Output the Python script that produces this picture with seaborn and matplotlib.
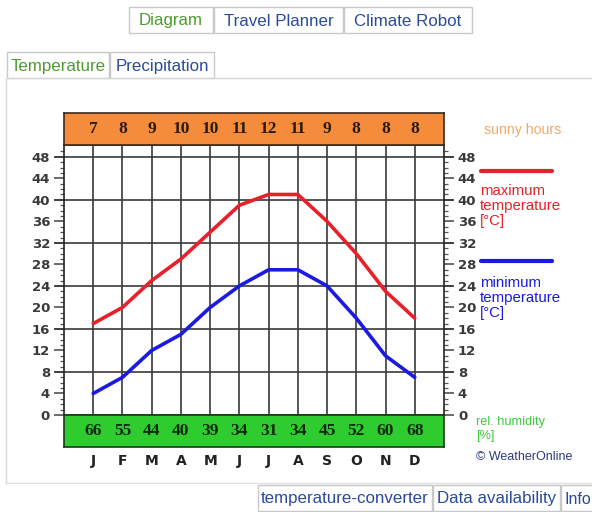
import matplotlib
matplotlib.use("Agg")
import matplotlib.pyplot as plt
from matplotlib.patches import Rectangle
import numpy as np
import pandas as pd
import seaborn as sns

# Monthly climate values
months = ["J", "F", "M", "A", "M", "J", "J", "A", "S", "O", "N", "D"]
max_temp = [17, 20, 25, 29, 34, 39, 41, 41, 36, 30, 23, 18]
min_temp = [4, 7, 12, 15, 20, 24, 27, 27, 24, 18, 11, 7]
sunny_hours = [7, 8, 9, 10, 10, 11, 12, 11, 9, 8, 8, 8]
humidity = [66, 55, 44, 40, 39, 34, 31, 34, 45, 52, 60, 68]
y_ticks = list(range(0, 49, 4))

sns.set_style("white")
plt.rcParams["font.family"] = ["DejaVu Sans"]

W, H = 592, 512
fig = plt.figure(figsize=(W / 100, H / 100), dpi=100)
fig.patch.set_facecolor("white")


def px_axes(x0, y0, x1, y1, **kw):
    """Axes placed by pixel box (top-left origin)."""
    return fig.add_axes([x0 / W, 1 - y1 / H, (x1 - x0) / W, (y1 - y0) / H], **kw)


# Page chrome: tabs and panel frame
page = px_axes(0, 0, W, H)
page.set_xlim(0, W)
page.set_ylim(H, 0)
page.axis("off")

tab_edge = "#c8c8c8"
green_txt = "#4e9a2e"
blue_txt = "#2b4a9a"


def tab(x0, x1, y0, y1, label, color, size=12.2, tx=None):
    page.add_patch(Rectangle((x0, y0), x1 - x0, y1 - y0, facecolor="white",
                             edgecolor=tab_edge, lw=1.0))
    if tx is None:
        page.text((x0 + x1) / 2, (y0 + y1) / 2 + 1, label, color=color,
                  fontsize=size, ha="center", va="center",
                  family="Liberation Sans")
    else:
        page.text(tx, (y0 + y1) / 2 + 1, label, color=color,
                  fontsize=size, ha="left", va="center",
                  family="Liberation Sans")


tab(129, 213, 7, 33, "Diagram", green_txt)
tab(214, 343, 7, 33, "Travel Planner", blue_txt)
tab(344, 472, 7, 33, "Climate Robot", blue_txt)

# content panel
page.plot([6, 6, W + 2], [483, 78, 78], color="#d8d8d8", lw=1.0)
page.plot([6, W + 2], [483, 483], color="#e0e0e0", lw=1.0)
tab(7, 109, 52, 78, "Temperature", green_txt)
tab(110, 214, 52, 78, "Precipitation", blue_txt)

tab(258, 432, 485, 511, "temperature-converter", blue_txt)
tab(433, 560, 485, 511, "Data availability", blue_txt)
tab(561, 620, 485, 511, "Info", blue_txt, size=11.5, tx=564)

# Legend column on the right
page.text(484, 130, "sunny hours", color="#f0a868", fontsize=10.2,
          va="center", family="Liberation Sans")
page.plot([481, 552], [171, 171], color="#e8202a", lw=3)
page.text(480, 206, "maximum\ntemperature\n[°C]", color="#e8202a",
          fontsize=10.8, va="center", linespacing=1.12, family="Liberation Sans")
page.plot([481, 552], [261, 261], color="#1a1ae0", lw=3)
page.text(480, 298, "minimum\ntemperature\n[°C]", color="#1a1ae0",
          fontsize=10.8, va="center", linespacing=1.12, family="Liberation Sans")
page.text(476, 429, "rel. humidity\n[%]", color="#3cc83c", fontsize=9.2,
          va="center", linespacing=1.3, family="Liberation Sans")
page.text(476, 457, "© WeatherOnline", color="#2a3a80", fontsize=9,
          va="center", family="Liberation Sans")

# Main temperature chart
x = np.arange(len(months))
ax = px_axes(64, 145, 444, 415)
ax.set_xlim(-1, 12)
ax.set_ylim(0, 50.2)

for xi in x:
    ax.axvline(xi, color="#3a3a3a", lw=1.2, zorder=1)
for yv in range(8, 49, 8):
    ax.axhline(yv, xmin=-0.025, xmax=1.025, color="#3a3a3a", lw=1.2,
               clip_on=False, zorder=1)

df = pd.DataFrame({"m": np.concatenate([x, x]),
                   "t": max_temp + min_temp,
                   "kind": ["max"] * 12 + ["min"] * 12})
sns.lineplot(data=df, x="m", y="t", hue="kind",
             palette={"max": "#e8202a", "min": "#1a1ae0"},
             lw=2.6, legend=False, ax=ax, zorder=3)
ax.set_xlabel("")
ax.set_ylabel("")
ax.set_xticks([])
ax.set_yticks(y_ticks)
ax.set_yticks(range(0, 50), minor=True)
ax.tick_params(axis="y", which="major", direction="out", length=7, width=1.1,
               color="#444444", labelsize=9.5, labelcolor="#3a3a3a", pad=3,
               left=True, right=True, labelleft=True, labelright=True)
ax.tick_params(axis="y", which="minor", direction="out", length=3, width=0.9,
               color="#555555", left=True, right=True)
for lab in ax.get_yticklabels():
    lab.set_fontweight("bold")
for sp in ax.spines.values():
    sp.set_color("#222222")
    sp.set_linewidth(1.2)

# Sunny hours band above the chart
top = px_axes(64, 113, 444, 145)
top.set_facecolor("#f58c3c")
top.set_xlim(-1, 12)
top.set_ylim(0, 1)
top.set_xticks([])
top.set_yticks([])
for sp in top.spines.values():
    sp.set_color("#3a2a1a")
    sp.set_linewidth(1.2)
for xi, v in zip(x, sunny_hours):
    top.text(xi, 0.5, str(v), ha="center", va="center", fontsize=12.5,
             fontweight="bold", family="Liberation Serif", color="#2a1a0a")

# Relative humidity band below the chart
bot = px_axes(64, 415, 444, 447)
bot.set_facecolor("#2fcc2f")
bot.set_xlim(-1, 12)
bot.set_ylim(0, 1)
bot.set_yticks([])
bot.set_xticks(x)
bot.set_xticklabels(months)
bot.tick_params(axis="x", length=0, pad=5, labelsize=10)
for lab in bot.get_xticklabels():
    lab.set_fontweight("heavy")
    lab.set_color("#222222")
for sp in bot.spines.values():
    sp.set_color("#1a3a1a")
    sp.set_linewidth(1.2)
for xi, v in zip(x, humidity):
    bot.text(xi, 0.5, str(v), ha="center", va="center", fontsize=12.5,
             fontweight="bold", family="Liberation Serif", color="#0a2a0a")

fig.savefig("out.png", dpi=100, facecolor="white")
